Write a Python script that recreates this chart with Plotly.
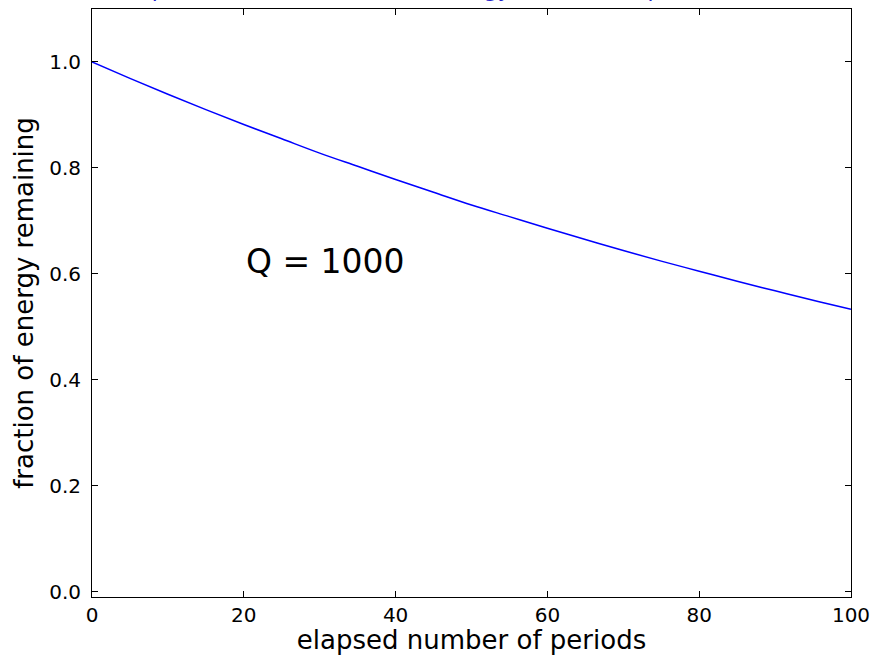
import plotly.graph_objects as go

# values
periods = [0, 5, 10, 15, 20, 25, 30, 35, 40, 45, 50, 55, 60, 65, 70, 75, 80, 85, 90, 95, 100]
energy_fraction = [1.000, 0.969, 0.939, 0.910, 0.882, 0.855, 0.828, 0.803, 0.778, 0.754, 0.730,
                   0.708, 0.686, 0.665, 0.644, 0.624, 0.605, 0.586, 0.568, 0.550, 0.533]
x_ticks = [0, 20, 40, 60, 80, 100]
y_ticks = [0.0, 0.2, 0.4, 0.6, 0.8, 1.0]
y_tick_text = ["0.0", "0.2", "0.4", "0.6", "0.8", "1.0"]

FONT = "DejaVu Sans"

fig = go.Figure()
fig.add_trace(go.Scatter(x=periods, y=energy_fraction, mode="lines",
                         line=dict(color="#0000ff", width=1.5, shape="spline"),
                         showlegend=False, hoverinfo="skip"))

axis_common = dict(showline=True, linecolor="black", linewidth=1, mirror="allticks",
                   ticks="inside", ticklen=6, tickcolor="black", tickwidth=1,
                   showgrid=False, zeroline=False, automargin=False,
                   tickfont=dict(family=FONT, size=20, color="black"))

fig.update_xaxes(range=[0, 100], tickvals=x_ticks, ticktext=[str(v) for v in x_ticks],
                 title=dict(text="elapsed number of periods", font=dict(family=FONT, size=26, color="black"),
                            standoff=7),
                 ticklabelstandoff=0, **axis_common)
fig.update_yaxes(range=[-0.01, 1.1], tickvals=y_ticks, ticktext=y_tick_text,
                 title=dict(text="fraction of energy remaining", font=dict(family=FONT, size=26, color="black"),
                            standoff=8),
                 ticklabelstandoff=6, **axis_common)

fig.add_annotation(x=20, y=0.624, xref="x", yref="y", text="Q = 1000", showarrow=False,
                   xanchor="left", yanchor="middle",
                   font=dict(family=FONT, size=33, color="black"))

# title mostly cut off above the canvas; only descenders visible
fig.add_annotation(x=0.445, y=1.0, xref="paper", yref="paper", yshift=5,
                   text="Damped oscillator: fraction of energy vs. time (exponential)",
                   showarrow=False, xanchor="center", yanchor="bottom",
                   font=dict(family=FONT, size=22, color="#2222cc"))

fig.update_layout(width=873, height=655, margin=dict(l=92, r=22, t=9, b=58),
                  paper_bgcolor="white", plot_bgcolor="white",
                  font=dict(family=FONT))

fig.write_html("out.html")
